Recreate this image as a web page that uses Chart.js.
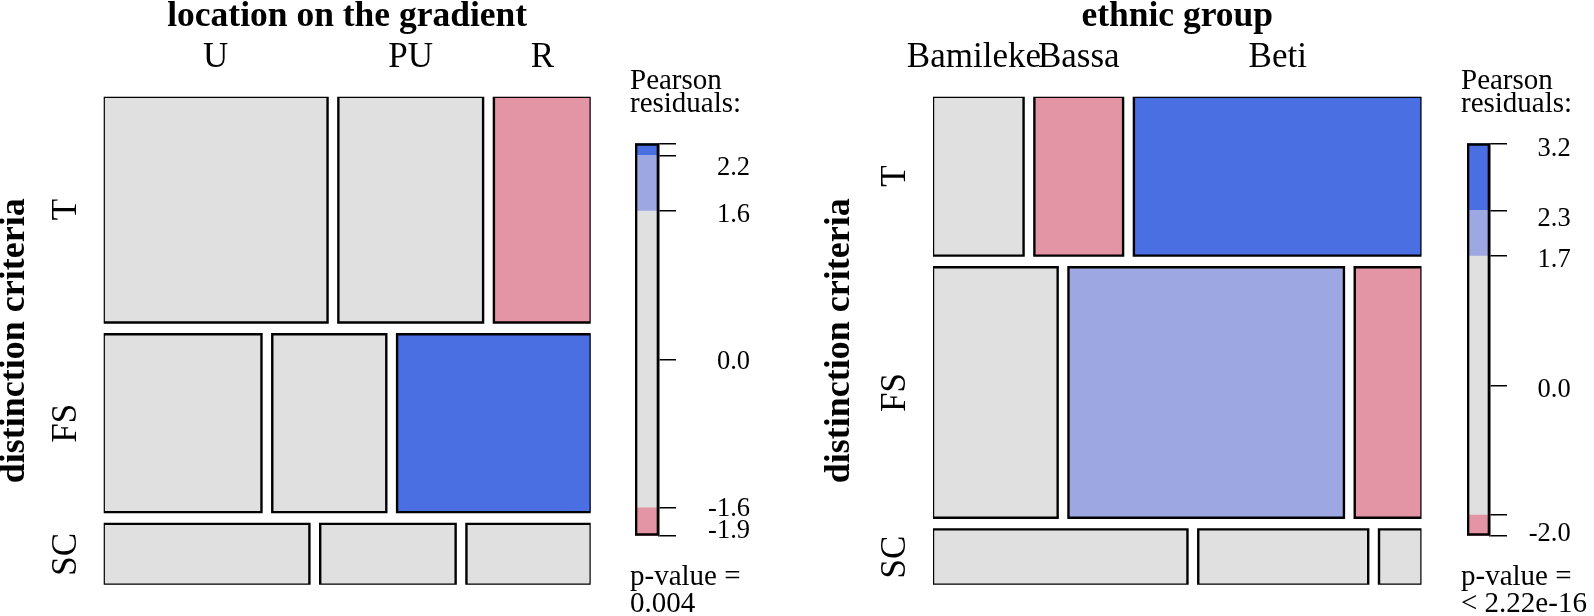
<!DOCTYPE html>
<html>
<head>
<meta charset="utf-8">
<script src="https://cdn.jsdelivr.net/npm/chart.js@4.4.1/dist/chart.umd.min.js"></script>
<style>
  html, body { margin: 0; padding: 0; background: #fff; }
  body { width: 1594px; height: 616px; position: relative; overflow: hidden; }
  canvas { position: absolute; top: 0; }
</style>
</head>
<body>
<canvas id="mosaicLeft" width="600" height="616" style="left:0px"></canvas>
<canvas id="legendLeft" width="170" height="616" style="left:630px"></canvas>
<canvas id="mosaicRight" width="640" height="616" style="left:800px"></canvas>
<canvas id="legendRight" width="133" height="616" style="left:1461px"></canvas>
<script>
// rows of both mosaics
var rowLabels = ['T', 'FS', 'SC'];

// location on the gradient
var locationCols = ['U', 'PU', 'R'];
var locationRowPct = [48.6, 38.3, 13.1];
var locationCellPct = [[48.1, 31.1, 20.8], [33.9, 24.5, 41.6], [44.2, 29.1, 26.7]];
var locationResid = [[0.9, 0.4, -1.9], [-1.1, -0.7, 2.33], [0.2, 0.5, -0.8]];
var locationCuts = [1.6, 2.2];
var locationLegendTicks = [2.33, 2.2, 1.6, 0, -1.6, -1.9];
var locationLegendLabels = ['', '2.2', '1.6', '0.0', '-1.6', '-1.9'];
var locationPValue = '0.004';

// ethnic group
var ethnicCols = ['Bamileke', 'Bassa', 'Beti'];
var ethnicRowPct = [34.2, 53.9, 11.9];
var ethnicCellPct = [[19.4, 19.0, 61.6], [26.7, 59.0, 14.3], [54.5, 36.4, 9.1]];
var ethnicResid = [[-0.4, -1.85, 3.18], [-0.6, 2.05, -1.97], [1.1, 0.3, -0.5]];
var ethnicCuts = [1.7, 2.3];
var ethnicLegendTicks = [3.18, 2.3, 1.7, 0, -1.7, -1.97];
var ethnicLegendLabels = ['3.2', '2.3', '1.7', '0.0', '', '-2.0'];
var ethnicPValue = '< 2.22e-16';

var colGrey = '#E0E0E0';
var colPink = '#E495A5';
var colRed = '#D33F6A';
var colLightBlue = '#9DA8E2';
var colBlue = '#4A6FE3';

Chart.defaults.font.family = "'Liberation Serif', 'Times New Roman', serif";
Chart.defaults.color = '#000';

function sum(arr) {
  var s = 0;
  for (var i = 0; i < arr.length; i++) s += arr[i];
  return s;
}

function shade(r, cuts) {
  var a = Math.abs(r);
  if (a < cuts[0]) return colGrey;
  if (r > 0) return a < cuts[1] ? colLightBlue : colBlue;
  return a < cuts[1] ? colPink : colRed;
}

// keep label overflow from shrinking the chart area
function noLabelPadding(s) {
  s.paddingTop = 0;
  s.paddingBottom = 0;
  s.paddingLeft = 0;
  s.paddingRight = 0;
}

function drawMosaic(id, title, cols, rowPct, cellPct, resid, cuts, box) {
  var datasets = [];
  var rowCenters = [];
  var colCenters = [];
  var rowTotal = sum(rowPct);
  var y = 0;

  for (var i = 0; i < rowPct.length; i++) {
    var h = rowPct[i] / rowTotal * (1 - box.gapY * (rowPct.length - 1));
    var cellTotal = sum(cellPct[i]);
    var x = 0;
    for (var j = 0; j < cellPct[i].length; j++) {
      var w = cellPct[i][j] / cellTotal * (1 - box.gapX * (cellPct[i].length - 1));
      datasets.push({
        data: [{x: x, y: y}, {x: x + w, y: y}, {x: x + w, y: y + h}, {x: x, y: y + h}, {x: x, y: y}],
        showLine: true,
        fill: 'shape',
        backgroundColor: shade(resid[i][j], cuts),
        borderColor: '#000',
        borderWidth: 2.4,
        borderJoinStyle: 'miter',
        borderCapStyle: 'square',
        pointRadius: 0,
        pointHoverRadius: 0,
        tension: 0
      });
      if (i === 0) colCenters.push(x + w / 2);
      x += w + box.gapX;
    }
    rowCenters.push(y + h / 2);
    y += h + box.gapY;
  }

  new Chart(document.getElementById(id).getContext('2d'), {
    type: 'scatter',
    data: { datasets: datasets },
    options: {
      responsive: false,
      animation: false,
      events: [],
      layout: { padding: { left: 0, top: 0, right: box.padRight, bottom: box.padBottom } },
      plugins: { legend: { display: false }, tooltip: { enabled: false } },
      scales: {
        x: {
          type: 'linear', position: 'top', min: 0, max: 1,
          grid: { display: false, drawTicks: false },
          border: { display: false },
          afterBuildTicks: function(s) { s.ticks = colCenters.map(function(v) { return {value: v}; }); },
          afterFit: function(s) { s.height = box.top; noLabelPadding(s); },
          ticks: {
            autoSkip: false, minRotation: 0, maxRotation: 0, padding: box.colLabelPad,
            color: '#000', font: { size: 35 },
            // trailing spaces keep touching labels apart, like R does
            callback: function(v, idx) { return cols[idx] + ' '.repeat(box.colLabelSpace[idx]); }
          },
          title: {
            display: true, text: title, color: '#000',
            font: { size: 35.5, weight: 'bold', lineHeight: 0.7 },
            padding: { top: 4, bottom: 0 }
          }
        },
        y: {
          type: 'linear', position: 'left', min: 0, max: 1, reverse: true,
          grid: { display: false, drawTicks: false },
          border: { display: false },
          afterBuildTicks: function(s) { s.ticks = rowCenters.map(function(v) { return {value: v}; }); },
          afterFit: function(s) { s.width = box.left; noLabelPadding(s); },
          ticks: {
            autoSkip: false, minRotation: 90, maxRotation: 90, crossAlign: 'center',
            padding: box.rowLabelPad, color: '#000', font: { size: 35 },
            callback: function(v, idx) { return rowLabels[idx]; }
          },
          title: {
            display: true, text: 'distinction criteria', color: '#000',
            font: { size: 36, weight: 'bold', lineHeight: 0.8 },
            padding: { top: box.yTitlePad, bottom: 0 }
          }
        }
      }
    }
  });
}

function drawLegend(id, resid, cuts, tickVals, tickLabels, pValue, box) {
  var flat = [].concat.apply([], resid);
  var rMin = Math.min.apply(null, flat);
  var rMax = Math.max.apply(null, flat);
  var bands = [
    [-Infinity, -cuts[1], colRed],
    [-cuts[1], -cuts[0], colPink],
    [-cuts[0], cuts[0], colGrey],
    [cuts[0], cuts[1], colLightBlue],
    [cuts[1], Infinity, colBlue]
  ];

  var datasets = [{
    data: [[rMin, rMax]], backgroundColor: 'rgba(0,0,0,0)',
    borderColor: '#000', borderWidth: 2, borderSkipped: false, order: 0
  }];
  bands.forEach(function(b) {
    var lo = Math.max(b[0], rMin), hi = Math.min(b[1], rMax);
    if (hi > lo) datasets.push({ data: [[lo, hi]], backgroundColor: b[2], borderWidth: 0, order: 1 });
  });
  datasets.forEach(function(d) {
    d.grouped = false;
    d.barPercentage = 1;
    d.categoryPercentage = 1;
    d.xAxisID = 'x';
    d.yAxisID = 'y';
  });

  // vertical label shift in px (positive = down), done with a blank line
  var nudge = box.nudge;

  new Chart(document.getElementById(id).getContext('2d'), {
    type: 'bar',
    data: { labels: ['residuals'], datasets: datasets },
    options: {
      responsive: false,
      animation: false,
      events: [],
      layout: { padding: 0 },
      plugins: {
        legend: { display: false },
        tooltip: { enabled: false },
        title: {
          display: true, align: 'start', text: ['Pearson', 'residuals:'], color: '#000',
          font: { size: 29, weight: 'normal', lineHeight: 0.8 },
          padding: { top: 69.4, bottom: 27.5 }
        },
        subtitle: {
          display: true, position: 'bottom', align: 'start', text: ['p-value =', pValue], color: '#000',
          font: { size: 29, weight: 'normal', lineHeight: 0.95 },
          padding: { top: 27.5, bottom: -2.3 }
        }
      },
      scales: {
        x: { display: false },
        y: {
          type: 'linear', position: 'right', min: rMin, max: rMax,
          afterBuildTicks: function(s) { s.ticks = tickVals.map(function(v) { return {value: v}; }); },
          afterFit: function(s) { s.width = box.axisWidth; noLabelPadding(s); },
          ticks: {
            autoSkip: false, crossAlign: 'far', padding: 0,
            color: '#000',
            font: function(c) {
              var n = Math.abs(nudge[c.index] || 0);
              return n ? { size: 26.5, lineHeight: (2 * n) + 'px' } : { size: 26.5 };
            },
            callback: function(v, idx) {
              var n = nudge[idx] || 0;
              if (n > 0) return ['', tickLabels[idx]];
              if (n < 0) return [tickLabels[idx], ''];
              return tickLabels[idx];
            }
          },
          grid: { drawOnChartArea: false, drawTicks: true, tickLength: 17, color: '#000', lineWidth: 1.5 },
          border: { display: true, color: '#000', width: 1.5 }
        },
        pad: {
          type: 'linear', axis: 'y', position: 'left', display: true,
          ticks: { display: false },
          grid: { display: false, drawTicks: false },
          border: { display: false },
          afterFit: function(s) { s.width = box.barOffset; noLabelPadding(s); }
        },
        rest: {
          type: 'linear', axis: 'y', position: 'right', display: true, weight: 5,
          ticks: { display: false },
          grid: { display: false, drawTicks: false },
          border: { display: false },
          afterFit: function(s) { s.width = box.restWidth; noLabelPadding(s); }
        }
      }
    }
  });
}

drawMosaic('mosaicLeft', 'location on the gradient', locationCols, locationRowPct, locationCellPct, locationResid, locationCuts,
  { left: 103.7, top: 96.7, padRight: 9.3, padBottom: 31.3, gapX: 10.8 / 487, gapY: 11.7 / 488,
    rowLabelPad: 15.3, colLabelPad: 17.5, yTitlePad: 0.2, colLabelSpace: [0, 0, 0] });

drawMosaic('mosaicRight', 'ethnic group', ethnicCols, ethnicRowPct, ethnicCellPct, ethnicResid, ethnicCuts,
  { left: 133, top: 96.7, padRight: 18.5, padBottom: 31.3, gapX: 10.8 / 488.5, gapY: 11.7 / 488,
    rowLabelPad: 16.1, colLabelPad: 17.5, yTitlePad: 25.7, colLabelSpace: [1, 0, 0] });

drawLegend('legendLeft', locationResid, locationCuts, locationLegendTicks, locationLegendLabels, locationPValue,
  { barOffset: 5, axisWidth: 91, restWidth: 50, nudge: [0, 12.5, 4, 3, 1.5, -5] });

drawLegend('legendRight', ethnicResid, ethnicCuts, ethnicLegendTicks, ethnicLegendLabels, ethnicPValue,
  { barOffset: 6, axisWidth: 80.7, restWidth: 23.3, nudge: [5.5, 8.5, 3.5, 4, 0, -1.5] });
</script>
</body>
</html>
